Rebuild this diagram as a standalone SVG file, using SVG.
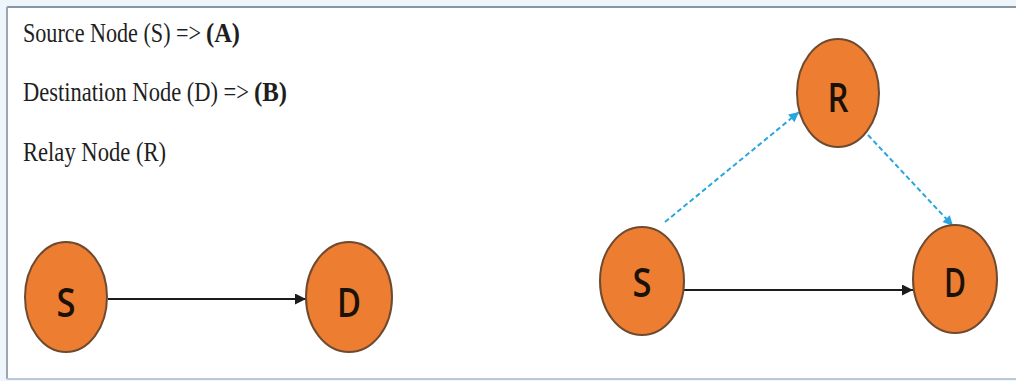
<svg xmlns="http://www.w3.org/2000/svg" width="1016" height="381" viewBox="0 0 1016 381">
  <defs>
    <style>
      .legend { font-family: "Liberation Serif", "Times New Roman", serif; font-size: 22px; fill: #1e1e1e; }
      .legend .b { font-weight: bold; }
      .node ellipse { fill: #ed7d31; stroke: #6e4a30; stroke-width: 2; }
      .node text { font-family: "Open Sans", "Liberation Sans", sans-serif; font-size: 40px; font-weight: 600; fill: #1a1208; text-anchor: middle; }
      .direct { stroke: #1c1c1c; stroke-width: 2; fill: none; }
      .relay { stroke: #29a6e0; stroke-width: 2; stroke-dasharray: 5 3; fill: none; }
    </style>
    <marker id="arrowBlack" viewBox="0 0 10 10" refX="10" refY="5" markerWidth="12" markerHeight="11" markerUnits="userSpaceOnUse" orient="auto">
      <path d="M0,0 L10,5 L0,10 z" fill="#1c1c1c"/>
    </marker>
    <marker id="arrowBlue" viewBox="0 0 10 10" refX="10" refY="5" markerWidth="11" markerHeight="10" markerUnits="userSpaceOnUse" orient="auto">
      <path d="M0,0 L10,5 L0,10 z" fill="#29a6e0"/>
    </marker>
  </defs>

  <!-- page background and frame -->
  <rect x="0" y="0" width="1016" height="381" fill="#eef6fb"/>
  <rect x="7" y="7" width="1020" height="372" fill="#ffffff"/>
  <line x1="7" y1="7" x2="1016" y2="7" stroke="#8796a4" stroke-width="2"/>
  <line x1="7" y1="7" x2="7" y2="379" stroke="#9aa7b3" stroke-width="2"/>
  <line x1="7" y1="379" x2="1016" y2="379" stroke="#b9c9d8" stroke-width="2"/>

  <!-- legend: narrow, tall serif lettering -->
  <g id="legend" class="legend">
    <g transform="translate(23,42) scale(1,1.27)">
      <text x="0" y="0" textLength="178" lengthAdjust="spacingAndGlyphs">Source Node (S) =&gt;</text>
      <text class="b" x="183" y="0" textLength="34" lengthAdjust="spacingAndGlyphs">(A)</text>
    </g>
    <g transform="translate(23,101) scale(1,1.27)">
      <text x="0" y="0" textLength="226" lengthAdjust="spacingAndGlyphs">Destination Node (D) =&gt;</text>
      <text class="b" x="231" y="0" textLength="33" lengthAdjust="spacingAndGlyphs">(B)</text>
    </g>
    <g transform="translate(23,161) scale(1,1.27)">
      <text x="0" y="0" textLength="143" lengthAdjust="spacingAndGlyphs">Relay Node (R)</text>
    </g>
  </g>

  <!-- connectors -->
  <g id="connectors">
    <line class="direct" x1="108" y1="299" x2="306" y2="299" marker-end="url(#arrowBlack)"/>
    <line class="direct" x1="684" y1="290" x2="913" y2="290" marker-end="url(#arrowBlack)"/>
    <line class="relay" x1="665" y1="222" x2="799" y2="112" marker-end="url(#arrowBlue)"/>
    <line class="relay" x1="868" y1="135" x2="953" y2="226" marker-end="url(#arrowBlue)"/>
  </g>

  <!-- direct link: left pair -->
  <g id="node-s1" class="node">
    <ellipse cx="66" cy="297" rx="41" ry="55"/>
    <text x="66" y="317" textLength="19" lengthAdjust="spacingAndGlyphs">S</text>
  </g>
  <g id="node-d1" class="node">
    <ellipse cx="349" cy="297" rx="43" ry="55"/>
    <text x="349" y="317" textLength="24" lengthAdjust="spacingAndGlyphs">D</text>
  </g>

  <!-- relayed link: right triangle -->
  <g id="node-r" class="node">
    <ellipse cx="838" cy="93" rx="41" ry="54"/>
    <text x="838" y="112" textLength="21" lengthAdjust="spacingAndGlyphs">R</text>
  </g>
  <g id="node-s2" class="node">
    <ellipse cx="642" cy="281" rx="42" ry="54"/>
    <text x="642" y="297" textLength="19" lengthAdjust="spacingAndGlyphs">S</text>
  </g>
  <g id="node-d2" class="node">
    <ellipse cx="955" cy="279" rx="42" ry="54"/>
    <text x="955" y="297" textLength="22" lengthAdjust="spacingAndGlyphs">D</text>
  </g>
</svg>
